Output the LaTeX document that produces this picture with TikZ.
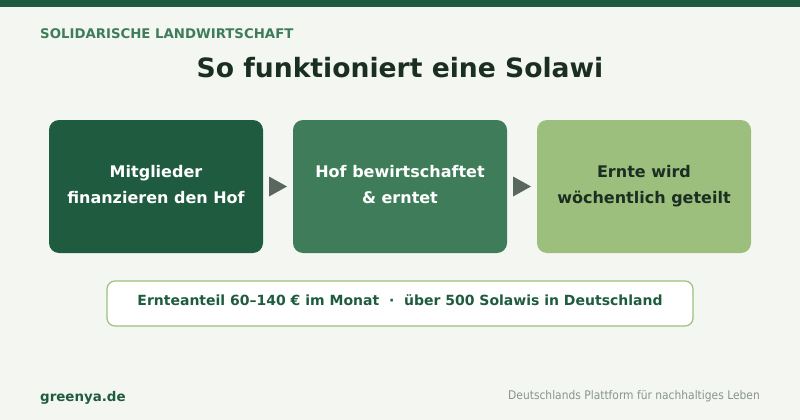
\documentclass[tikz,border=0pt]{standalone}
\usepackage{fontspec}
\usetikzlibrary{calc}
\setmainfont{DejaVu Sans}
\newfontfamily\condfont{DejaVu Sans Condensed}
\definecolor{bg}{HTML}{F4F6F1}
\definecolor{dkgreen}{HTML}{1F5C3F}
\definecolor{mdgreen}{HTML}{3F7D5A}
\definecolor{ltgreen}{HTML}{9DBF7E}
\definecolor{arrowgray}{HTML}{5A6660}
\definecolor{darktext}{HTML}{1A2E22}
\definecolor{footgray}{HTML}{8A948E}
\tikzset{
  stepbox/.style={rounded corners=10pt, minimum width=214pt, minimum height=133pt, inner sep=0pt},
  steptext/.style={anchor=base, inner sep=0pt, font=\bfseries\fontsize{16}{20}\selectfont},
  tri/.style={fill=arrowgray, draw=none},
}
\begin{document}
\begin{tikzpicture}[x=1pt,y=-1pt]
\useasboundingbox (0,0) rectangle (800,420);
\fill[bg] (0,0) rectangle (800,420);
\fill[dkgreen] (0,0) rectangle (800,7);
\node[anchor=base west, text=mdgreen, font=\bfseries\fontsize{13.3}{15}\selectfont, inner sep=0pt] (kicker) at (40,39) {SOLIDARISCHE LANDWIRTSCHAFT};
\node[anchor=base, text=darktext, font=\bfseries\fontsize{26.6}{32}\selectfont, inner sep=0pt] (title) at (400,77.5) {So funktioniert eine Solawi};
\node[stepbox, fill=dkgreen] (b1) at (156,186.5) {};
\node[stepbox, fill=mdgreen] (b2) at (400,186.5) {};
\node[stepbox, fill=ltgreen] (b3) at (644,186.5) {};
\node[steptext, text=white] (t1a) at (156,177) {Mitglieder};
\node[steptext, text=white] (t1b) at (156,203) {finanzieren den Hof};
\node[steptext, text=white] (t2a) at (400,177) {Hof bewirtschaftet};
\node[steptext, text=white] (t2b) at (400,203) {\& erntet};
\node[steptext, text=darktext] (t3a) at (644,177) {Ernte wird};
\node[steptext, text=darktext] (t3b) at (644,203) {wöchentlich geteilt};
\coordinate (a1) at ($(b1.east)!0.5!(b2.west)$);
\coordinate (a2) at ($(b2.east)!0.5!(b3.west)$);
\fill[tri] ([xshift=-9pt,yshift=-10pt]a1) -- ([xshift=9pt]a1) -- ([xshift=-9pt,yshift=10pt]a1) -- cycle;
\fill[tri] ([xshift=-9pt,yshift=-10pt]a2) -- ([xshift=9pt]a2) -- ([xshift=-9pt,yshift=10pt]a2) -- cycle;
\node[draw=ltgreen, line width=1.2pt, fill=white, rounded corners=8pt, minimum width=586pt, minimum height=45pt, inner sep=0pt] (info) at (400,303.5) {};
\node[anchor=base, inner sep=0pt, text=dkgreen, font=\bfseries\fontsize{14}{16}\selectfont] (infotext) at (400,305) {Ernteanteil 60–140 € im Monat \ \textperiodcentered\ \ über 500 Solawis in Deutschland};
\node[anchor=base west, text=dkgreen, font=\bfseries\fontsize{13.4}{16}\selectfont, inner sep=0pt] (brand) at (40,401.5) {greenya.de};
\node[anchor=base east, text=footgray, font=\condfont\fontsize{11.9}{14}\selectfont, inner sep=0pt] (tag) at (760,399) {Deutschlands Plattform für nachhaltiges Leben};
\end{tikzpicture}
\end{document}
